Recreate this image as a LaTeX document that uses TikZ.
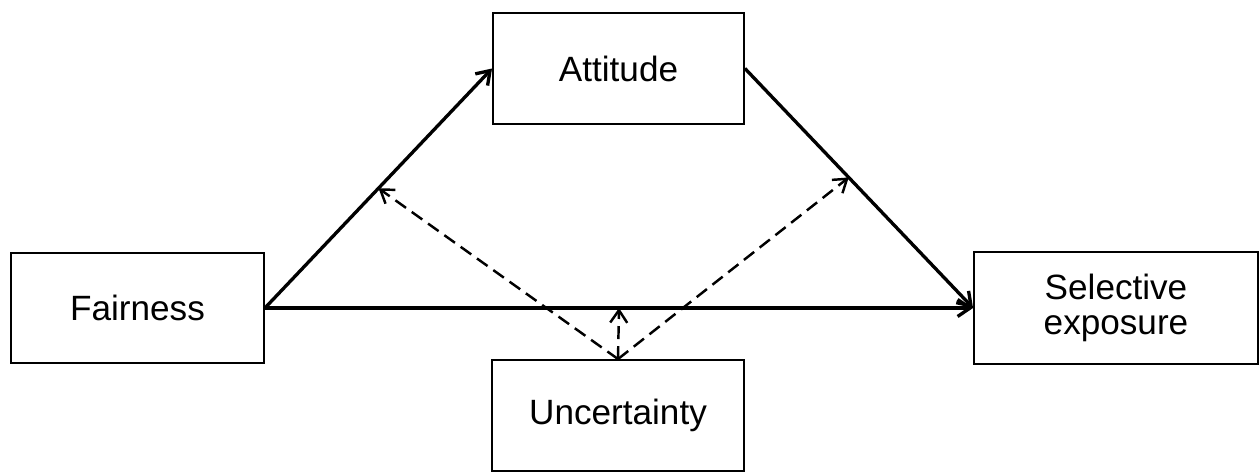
\documentclass[tikz,border=0pt]{standalone}
\usepackage{fontspec}
\setmainfont{Liberation Sans}
\usetikzlibrary{arrows.meta,calc}

\begin{document}
\begin{tikzpicture}[x=0.02cm, y=-0.02cm,
    >={Straight Barb[length=0.25cm, width=0.34cm]},
    every node/.style={font=\fontsize{20}{20}\selectfont},
    varbox/.style={draw, line width=1.1pt, inner sep=0pt, align=center},
    path/.style={->, line width=1.9pt},
    moderation/.style={->, line width=1.4pt, dash pattern=on 7.4pt off 4pt}]
        \useasboundingbox (0,0) rectangle (1260,472);
        \node[varbox, minimum width=5.06cm, minimum height=2.2cm] (fair) at (137.5,308)  {Fairness};
        \node[varbox, minimum width=5.02cm, minimum height=2.22cm] (att) at (618.5,68.5)  {Attitude};
        \node[varbox, minimum width=5.68cm, minimum height=2.24cm] (sel) at (1116,308)   {Selective\\exposure};
        \node[varbox, minimum width=5.04cm, minimum height=2.22cm] (unc) at (618,415.5)  {Uncertainty};
        \foreach \i/\j in {fair/att,att/sel,fair/sel}
            \draw[path] (\i.east) -- (\j.west);
        % moderating effects of uncertainty
        \coordinate (m1) at ($(fair.east)!0.5!(att.west)$);
        \coordinate (m2) at ($(att.east)!0.455!(sel.west)$);
        \coordinate (m3) at ($(fair.east)!0.5!(sel.west)$);
        \foreach \k in {m1,m2,m3}
            \draw[moderation] (unc.north) -- (\k);
    \end{tikzpicture}
\end{document}
